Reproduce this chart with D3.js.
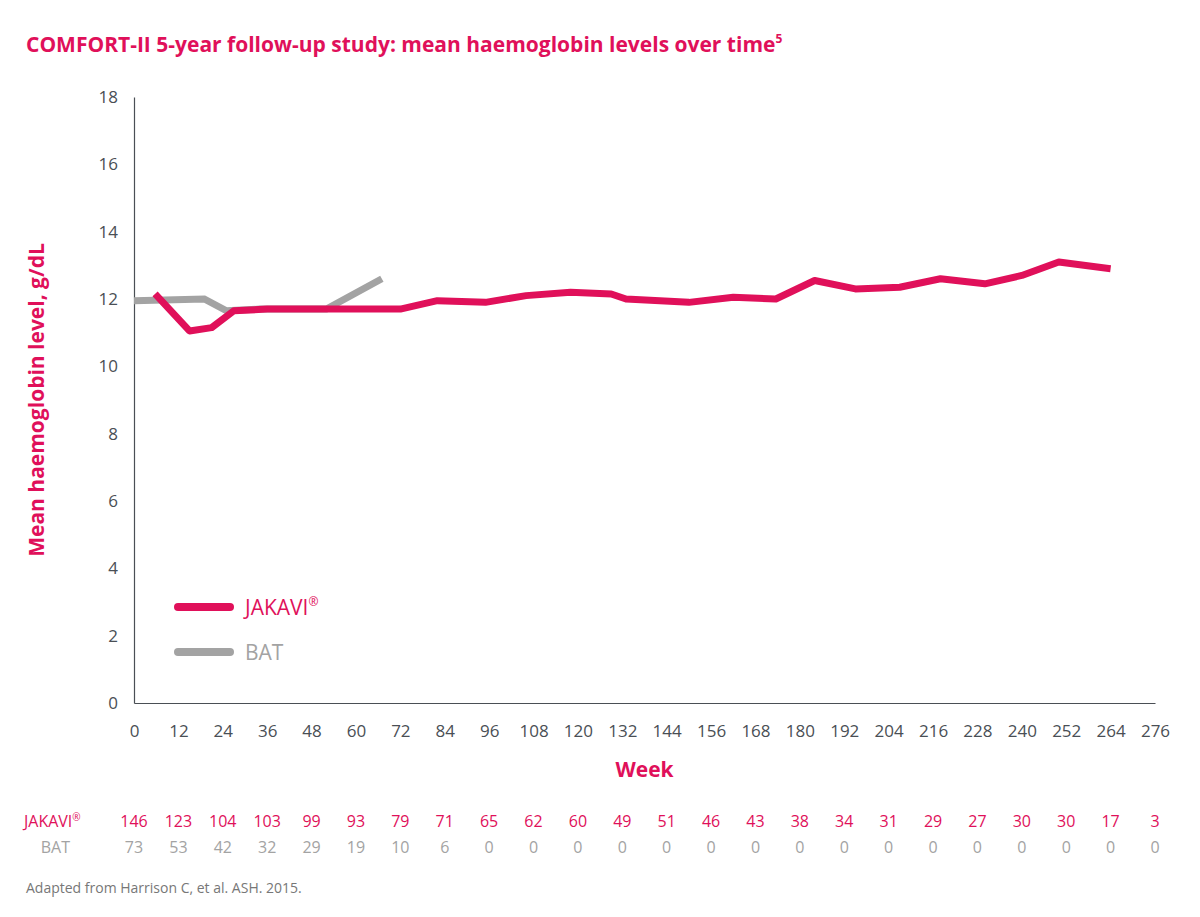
<!DOCTYPE html><html><head><meta charset="utf-8"><script src="https://cdn.jsdelivr.net/npm/d3@7"></script>
<style>body{margin:0;background:#fff;font-family:"Open Sans",Lato,sans-serif}</style></head><body><svg id="c" width="1200" height="917"></svg>
<script>
const jakaviWeeks=[5.7,15,21,27,36,48,60,72,82,95,106,118,129,133,150,162,173.5,184,195,207,218,230,240,250,264];
const jakaviVals=[12.15,11.05,11.15,11.65,11.7,11.7,11.7,11.7,11.95,11.9,12.1,12.2,12.15,12.0,11.9,12.05,12.0,12.55,12.3,12.35,12.6,12.45,12.7,13.1,12.9];
const batWeeks=[0,19,25,34,52,67];
const batVals=[11.95,12.0,11.65,11.7,11.7,12.6];
const xTicks=d3.range(0,277,12);
const yTicks=d3.range(0,19,2);
const jakaviN=[146,123,104,103,99,93,79,71,65,62,60,49,51,46,43,38,34,31,29,27,30,30,17,3];
const batN=[73,53,42,32,29,19,10,6,0,0,0,0,0,0,0,0,0,0,0,0,0,0,0,0];
const pink="#e0105a",grey="#a3a3a3",dark="#4a4f55";
const svg=d3.select("#c");
const x=d3.scaleLinear().domain([0,276]).range([134,1155]);
const y=d3.scaleLinear().domain([0,18]).range([703,97]);
svg.append("text").attr("x",26).attr("y",52).attr("fill",pink).attr("font-size",21).attr("font-weight",700)
 .text("COMFORT-II 5-year follow-up study: mean haemoglobin levels over time").append("tspan").attr("font-size",12).attr("dy",-9).text("5");
const ya=svg.append("g").attr("transform","translate(134,0)").call(d3.axisLeft(y).tickValues(yTicks).tickSize(0).tickPadding(16));
const xa=svg.append("g").attr("transform","translate(0,703)").call(d3.axisBottom(x).tickValues(xTicks).tickSize(0).tickPadding(22));
[ya,xa].forEach(a=>{a.select(".domain").attr("stroke",dark).attr("stroke-width",1.2);a.selectAll("text").attr("fill",dark).attr("font-size",17).attr("font-family","Open Sans")});
svg.append("text").attr("transform","translate(44,400) rotate(-90)").attr("text-anchor","middle").attr("fill",pink).attr("font-size",21).attr("font-weight",700).text("Mean haemoglobin level, g/dL");
svg.append("text").attr("x",x(138)).attr("y",777).attr("text-anchor","middle").attr("fill",pink).attr("font-size",21).attr("font-weight",700).text("Week");
const line=d3.line().x(d=>x(d[0])).y(d=>y(d[1])).curve(d3.curveLinear);
svg.append("path").attr("d",line(batWeeks.map((w,i)=>[w,batVals[i]]))).attr("fill","none").attr("stroke",grey).attr("stroke-width",7);
svg.append("path").attr("d",line(jakaviWeeks.map((w,i)=>[w,jakaviVals[i]]))).attr("fill","none").attr("stroke",pink).attr("stroke-width",7).attr("stroke-linejoin","round");
const lg=[["JAKAVI",pink,true],["BAT",grey,false]];
lg.forEach((l,i)=>{const yy=607+45*i;
 svg.append("line").attr("x1",178).attr("x2",230).attr("y1",yy).attr("y2",yy).attr("stroke",l[1]).attr("stroke-width",8).attr("stroke-linecap","round");
 const t=svg.append("text").attr("x",245).attr("y",yy+8).attr("fill",l[1]).attr("font-size",21).text(l[0]);
 if(l[2])t.append("tspan").attr("font-size",12).attr("dy",-9).text("®");});
const tj=svg.append("text").attr("x",24).attr("y",827).attr("fill",pink).attr("font-size",16).text("JAKAVI");
tj.append("tspan").attr("font-size",10).attr("dy",-6).text("®");
svg.append("text").attr("x",70).attr("y",853).attr("text-anchor","end").attr("fill",grey).attr("font-size",16).text("BAT");
jakaviN.forEach((n,i)=>svg.append("text").attr("x",x(12*i)+(i==0?0:0)).attr("y",827).attr("text-anchor","middle").attr("fill",pink).attr("font-size",16).text(n));
batN.forEach((n,i)=>svg.append("text").attr("x",x(12*i)).attr("y",853).attr("text-anchor","middle").attr("fill",grey).attr("font-size",16).text(n));
svg.selectAll("text").filter(function(){return false});
// count rows are offset: first count at x~139
svg.append("text").attr("x",26).attr("y",893).attr("fill","#777").attr("font-size",14).text("Adapted from Harrison C, et al. ASH. 2015.");
</script></body></html>
